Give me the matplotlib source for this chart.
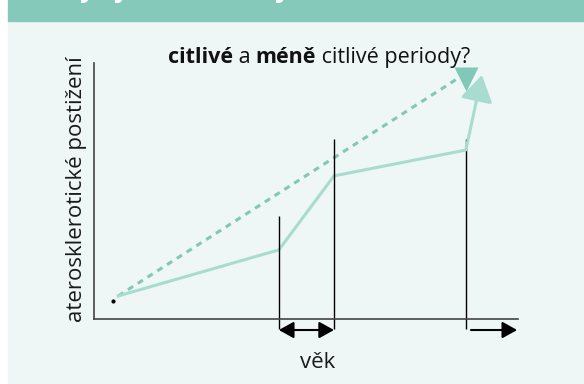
import matplotlib
matplotlib.use("Agg")
import matplotlib.pyplot as plt
from matplotlib.patches import Rectangle

# data (axis units 0..100)
solid_x = [5.7, 43.6, 56.6, 87.7]
solid_y = [9.0, 27.0, 55.9, 66.0]
solid_tip = (91.5, 95.3)

dashed_x = [5.7, 86.3]
dashed_y = [9.0, 94.5]
dashed_head = (87.7, 93.8)

start_dot = (4.5, 7.0)

period_x = [43.6, 56.6, 87.7]
period_top = [40.2, 70.3, 70.3]
period_bottom = -3.9
arrow_y = -4.3
right_arrow = (88.9, 99.8)

header = "Vyvíjí se stále stejně?"
title_parts = [("citlivé", "bold"), (" a ", "normal"), ("méně", "bold"),
               (" citlivé periody?", "normal")]
ylabel = "aterosklerotické postižení"
xlabel = "věk"

W, H = 584, 384
FONT = "Open Sans"
teal = "#85C9BB"
light = "#A9DCD0"
dash_col = "#82C8B9"
panel = "#EEF7F5"

fig = plt.figure(figsize=(W / 100, H / 100), dpi=100)
fig.patch.set_facecolor("white")
fig.patches.append(Rectangle((8 / W, 0), 1, 1 - 21 / H, transform=fig.transFigure,
                             color=panel, zorder=-10))
fig.patches.append(Rectangle((8 / W, 1 - 21 / H), 1, 21 / H, transform=fig.transFigure,
                             color=teal, zorder=-10))

ax = fig.add_axes([94 / W, (H - 319) / H, 424 / W, 256 / H])
ax.set_facecolor("none")
ax.set_xlim(0, 100)
ax.set_ylim(0, 100)
for s in ["top", "right"]:
    ax.spines[s].set_visible(False)
for s in ["left", "bottom"]:
    ax.spines[s].set_color("#444444")
    ax.spines[s].set_linewidth(1.2)
ax.set_xticks([])
ax.set_yticks([])

# dashed trend
ax.plot(dashed_x, dashed_y, color=dash_col, lw=2.2, dashes=(2.0, 1.8), clip_on=False)
ax.plot([dashed_head[0]], [dashed_head[1]], marker="v", ms=17, color=dash_col,
        mec="none", clip_on=False)

# solid curve
ax.plot(solid_x, solid_y, color=light, lw=2.2, clip_on=False, solid_joinstyle="miter")
ax.annotate("", xy=solid_tip, xytext=(solid_x[-1], solid_y[-1]),
            arrowprops=dict(arrowstyle="-|>,head_length=1.6,head_width=1.0",
                            color=light, lw=2.2, shrinkA=0, shrinkB=0),
            annotation_clip=False)

ax.plot([start_dot[0]], [start_dot[1]], marker="o", ms=2, color="black", clip_on=False)

# period boundaries
ax.vlines(period_x, period_bottom, period_top, color="black", lw=1, clip_on=False)
ax.annotate("", xy=(period_x[1], arrow_y), xytext=(period_x[0], arrow_y),
            arrowprops=dict(arrowstyle="<|-|>,head_length=0.9,head_width=0.5",
                            color="black", lw=1.5, shrinkA=0, shrinkB=0),
            annotation_clip=False)
ax.annotate("", xy=(right_arrow[1], arrow_y), xytext=(right_arrow[0], arrow_y),
            arrowprops=dict(arrowstyle="-|>,head_length=0.9,head_width=0.5",
                            color="black", lw=1.5, shrinkA=0, shrinkB=0),
            annotation_clip=False)

fig.text(77 / W, 1 - 189 / H, ylabel, rotation=90,
         ha="center", va="center", fontsize=16, family=FONT, color="#1a1a1a")
fig.text(318 / W, 1 - 362 / H, xlabel, ha="center", va="center",
         fontsize=16, family=FONT, color="#1a1a1a")

fig.canvas.draw()
r = fig.canvas.get_renderer()

# header text, mostly cut off by the top edge
ht = fig.text(0, 1 + 3 / H, header, color="white", fontsize=18, family=FONT,
              fontweight="bold", va="baseline")
probe = fig.text(0, 0, header[0], fontsize=18, family=FONT, fontweight="bold")
lead = probe.get_window_extent(r).width
probe.remove()
ht.set_x((80 - lead) / W)

# title with mixed weights
texts = []
for s, w in title_parts:
    t = fig.text(0, 1 - 63 / H, s, fontsize=15.5, family=FONT, fontweight=w,
                 color="#111111", va="baseline")
    texts.append(t)
widths = [t.get_window_extent(r).width for t in texts]
x = 319 - sum(widths) / 2
for t, w in zip(texts, widths):
    t.set_x(x / W)
    x += w

fig.savefig("out.png", dpi=100)
